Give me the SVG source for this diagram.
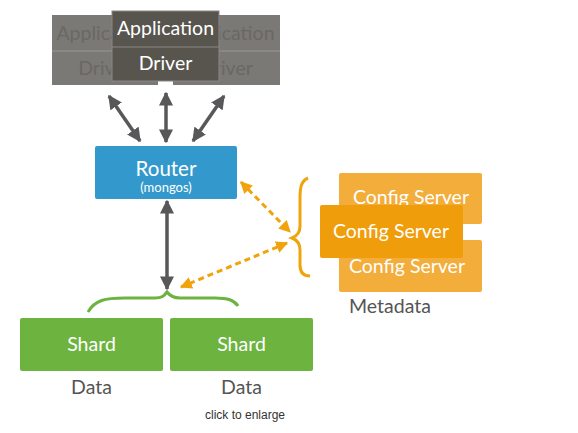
<svg xmlns="http://www.w3.org/2000/svg" width="578" height="433" viewBox="0 0 578 433">
<defs>
<style>
.t{font-family:Lato,"Open Sans","Liberation Sans",sans-serif;text-anchor:middle}
.w{fill:#ffffff}
.bk{fill:#6a6864}
.lbl{fill:#555555;font-size:19.5px}
.ga{stroke:#58585a;stroke-width:3.5;fill:none}
.oa{stroke:#f0a30a;stroke-width:3;fill:none;stroke-dasharray:6 4}
</style>
<marker id="gh" viewBox="0 0 10 10" refX="9" refY="5" markerWidth="4" markerHeight="4" orient="auto-start-reverse" markerUnits="strokeWidth">
<path d="M0,0 L10,5 L0,10 z" fill="#58585a"/>
</marker>
<marker id="oh" viewBox="0 0 10 10" refX="9" refY="5" markerWidth="4" markerHeight="4" orient="auto-start-reverse" markerUnits="strokeWidth">
<path d="M0,0 L10,5 L0,10 z" fill="#f0a30a"/>
</marker>
</defs>
<rect width="578" height="433" fill="#ffffff"/>

<g id="app-back-left">
<rect x="52" y="15" width="106" height="70" fill="#7b7975"/>
<line x1="52" y1="51" x2="158" y2="51" stroke="#9a9894" stroke-width="1"/>
<text class="t bk" x="105" y="40" font-size="19.5">Application</text>
<text class="t bk" x="105" y="75" font-size="19.5">Driver</text>
</g>
<g id="app-back-right">
<rect x="173" y="15" width="107" height="70" fill="#7b7975"/>
<line x1="173" y1="51" x2="280" y2="51" stroke="#9a9894" stroke-width="1"/>
<text class="t bk" x="226" y="40" font-size="19.5">Application</text>
<text class="t bk" x="226" y="75" font-size="19.5">Driver</text>
</g>
<g id="app-front">
<rect x="112" y="11" width="107" height="70" fill="#58554f" stroke="#8a8884" stroke-width="1"/>
<line x1="112" y1="47" x2="219" y2="47" stroke="#8a8884" stroke-width="1"/>
<text class="t w" x="165.5" y="35" font-size="19.5">Application</text>
<text class="t w" x="165.5" y="70" font-size="19.5">Driver</text>
</g>

<g id="router">
<rect x="95" y="146" width="142" height="53" rx="2" fill="#3399cc"/>
<text class="t w" x="166" y="176" font-size="20.5">Router</text>
<text class="t w" x="166" y="192" font-size="13">(mongos)</text>
</g>

<g id="config-back-top">
<rect x="339" y="173" width="143" height="51" rx="2" fill="#f2ad3a"/>
<text class="t w" x="411" y="204" font-size="19.5">Config Server</text>
</g>
<g id="config-back-bottom">
<rect x="339" y="240" width="143" height="52" rx="2" fill="#f2ad3a"/>
<text class="t w" x="407" y="273" font-size="19.5">Config Server</text>
</g>
<g id="config-front">
<rect x="320" y="205" width="143" height="53" rx="2" fill="#ef9d0b"/>
<text class="t w" x="391" y="238" font-size="19.5">Config Server</text>
</g>
<g id="metadata-label">
<text class="t lbl" x="390" y="313">Metadata</text>
</g>

<g id="shard-1">
<rect x="20" y="318" width="143" height="53" rx="2" fill="#6db33f"/>
<text class="t w" x="91.5" y="351" font-size="19.5">Shard</text>
<text class="t lbl" x="91.5" y="394">Data</text>
</g>
<g id="shard-2">
<rect x="170" y="318" width="143" height="53" rx="2" fill="#6db33f"/>
<text class="t w" x="241.5" y="351" font-size="19.5">Shard</text>
<text class="t lbl" x="241.5" y="394">Data</text>
</g>

<g id="connectors">
<line class="ga" x1="109" y1="96" x2="140" y2="141" marker-start="url(#gh)" marker-end="url(#gh)"/>
<line class="ga" x1="166" y1="93" x2="166" y2="142" marker-start="url(#gh)" marker-end="url(#gh)"/>
<line class="ga" x1="224" y1="96" x2="193" y2="141" marker-start="url(#gh)" marker-end="url(#gh)"/>
<line class="ga" x1="167" y1="201" x2="167" y2="289" marker-start="url(#gh)" marker-end="url(#gh)"/>
<line class="oa" x1="241" y1="182" x2="290" y2="232" marker-start="url(#oh)" marker-end="url(#oh)"/>
<line class="oa" x1="287" y1="243" x2="181" y2="287" marker-start="url(#oh)" marker-end="url(#oh)"/>
<path d="M88,312 C95,300 105,298 125,298 L155,298 C162,298 164,296 167,292 C170,296 173,298 180,298 L215,298 C228,298 234,300 238,306" fill="none" stroke="#6db33f" stroke-width="3"/>
<path d="M308,178 C301,181 300,188 300,198 L300,226 C300,232 297,236 292,238 C297,240 300,244 300,250 L300,265 C300,272 303,276 310,276" fill="none" stroke="#f0a30a" stroke-width="3"/>
</g>

<text x="245" y="419" font-family="Liberation Sans,Arial,sans-serif" font-size="12" fill="#333333" text-anchor="middle">click to enlarge</text>
</svg>
